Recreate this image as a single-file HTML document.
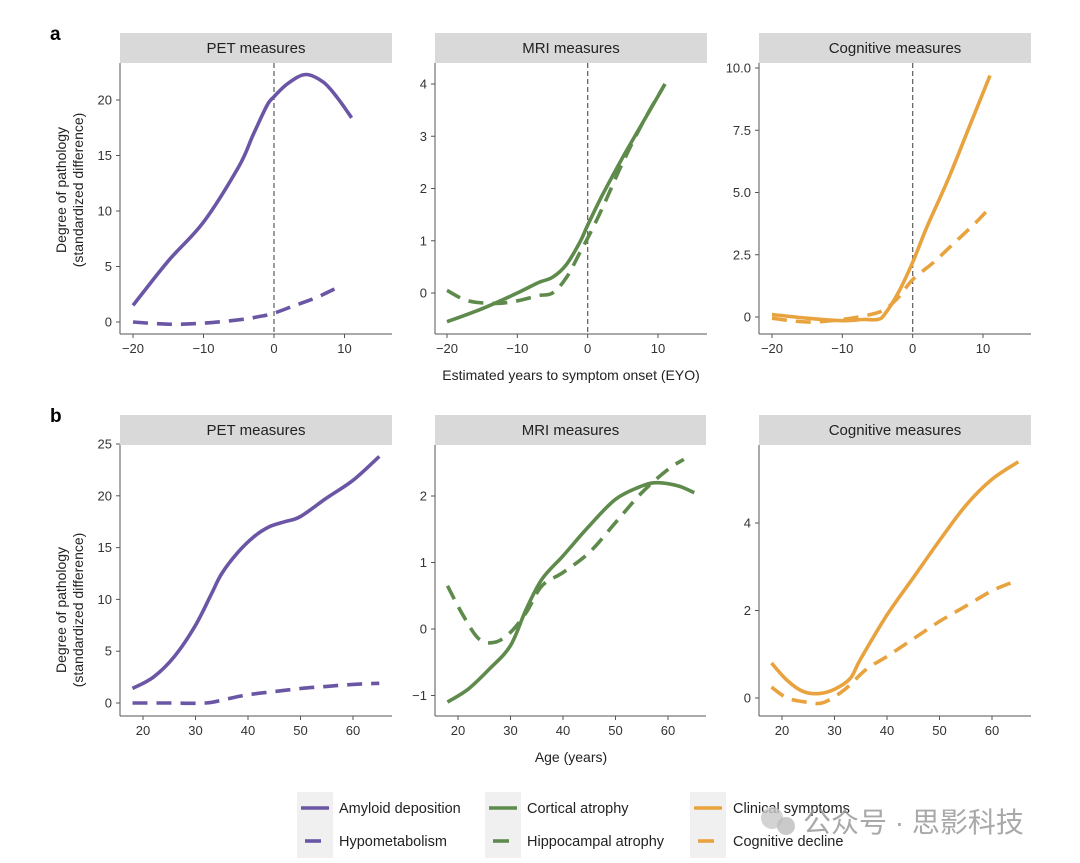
<!DOCTYPE html>
<html><head><meta charset="utf-8"><style>
body{margin:0;background:#fff;}
svg{display:block;font-family:"Liberation Sans",sans-serif;}
</style></head><body>
<svg id="fig" width="1080" height="863" viewBox="0 0 1080 863"></svg>
<script>
// ---- data ----
const eyoTicks=[-20,-10,0,10];
const ageTicks=[20,30,40,50,60];
const a1Ticks=[0,5,10,15,20];
const a2Ticks=[0,1,2,3,4];
const a3Ticks=[0,2.5,5,7.5,10];
const a3TickLabels=["0","2.5","5.0","7.5","10.0"];
const b1Ticks=[0,5,10,15,20,25];
const b2Ticks=[-1,0,1,2];
const b3Ticks=[0,2,4];
const aAmyX=[-20,-15,-10,-5,-3,-1,0,2,4.5,7,9,11];
const aAmyY=[1.5,5.5,9,14,16.8,19.5,20.3,21.5,22.3,21.6,20.2,18.4];
const aHypX=[-20,-15,-10,-5,-2,0,3,6,9];
const aHypY=[0,-0.2,-0.1,0.2,0.5,0.8,1.5,2.2,3.1];
const aCorX=[-20,-15,-10,-7,-5,-3,-1,0,2,5,8,11];
const aCorY=[-0.55,-0.3,0.0,0.2,0.3,0.55,1.0,1.3,1.85,2.6,3.3,4.0];
const aHipX=[-20,-17,-13,-10,-7,-5,-3,-1,0,2,5,8,11];
const aHipY=[0.05,-0.15,-0.2,-0.15,-0.05,0.0,0.3,0.8,1.05,1.6,2.5,3.3,4.0];
const aCliX=[-20,-15,-10,-7,-5,-4,-2,0,2,5,8,11];
const aCliY=[0.1,-0.05,-0.15,-0.1,-0.1,0.1,1.0,2.2,3.6,5.5,7.6,9.7];
const aDecX=[-20,-15,-10,-6,-4,-2,0,3,6,9,11];
const aDecY=[-0.05,-0.2,-0.1,0.1,0.3,0.8,1.5,2.2,3.0,3.8,4.4];
const bAmyX=[18,22,26,30,33,35,38,41,44,47,50,55,60,65];
const bAmyY=[1.4,2.5,4.5,7.5,10.5,12.5,14.5,16,17,17.5,18,19.8,21.5,23.8];
const bHypX=[18,25,32,36,40,45,50,55,60,65];
const bHypY=[0,0,0,0.4,0.8,1.1,1.4,1.6,1.8,1.9];
const bCorX=[18,22,26,30,33,36,40,45,50,55,58,62,65];
const bCorY=[-1.1,-0.9,-0.6,-0.25,0.3,0.75,1.1,1.55,1.95,2.15,2.2,2.15,2.05];
const bHipX=[18,21,24,27,30,33,36,40,45,50,55,60,63];
const bHipY=[0.65,0.2,-0.15,-0.2,-0.05,0.25,0.65,0.85,1.15,1.6,2.05,2.4,2.55];
const bCliX=[18,21,24,27,30,33,35,40,45,50,55,60,65];
const bCliY=[0.8,0.4,0.15,0.1,0.2,0.45,0.9,1.9,2.75,3.6,4.4,5.0,5.4];
const bDecX=[18,21,25,28,32,36,40,45,50,55,60,64];
const bDecY=[0.25,0.0,-0.1,-0.1,0.2,0.65,0.95,1.35,1.75,2.1,2.45,2.65];

const NS="http://www.w3.org/2000/svg";
const svg=document.getElementById('fig');
function el(tag,attrs,parent){const e=document.createElementNS(NS,tag);for(const k in attrs)e.setAttribute(k,attrs[k]);(parent||svg).appendChild(e);return e;}
function lin(d0,p0,d1,p1){return v=>p0+(v-d0)*(p1-p0)/(d1-d0);}
function smooth(pts){let d="M"+pts[0][0].toFixed(1)+","+pts[0][1].toFixed(1);
 for(let i=0;i<pts.length-1;i++){const p0=pts[i-1]||pts[i],p1=pts[i],p2=pts[i+1],p3=pts[i+2]||p2;
  const c1=[p1[0]+(p2[0]-p0[0])/6,p1[1]+(p2[1]-p0[1])/6],c2=[p2[0]-(p3[0]-p1[0])/6,p2[1]-(p3[1]-p1[1])/6];
  d+=" C"+c1[0].toFixed(1)+","+c1[1].toFixed(1)+" "+c2[0].toFixed(1)+","+c2[1].toFixed(1)+" "+p2[0].toFixed(1)+","+p2[1].toFixed(1);}
 return d;}
const PUR="#6b56a6",GRN="#5e8b4c",ORG="#e8a33f";
function panel(o){
 const g=el('g',{});
 
 
 const s=el('rect',{x:o.L,y:o.sy,width:o.R-o.L,height:30,fill:"#d9d9d9"},g);
 
 
 const t=el('text',{x:(o.L+o.R)/2,y:o.sy+20,'text-anchor':'middle','font-size':15,fill:'#222'},g);t.textContent=o.title;
 
 
 const X=o.xs,Y=o.ys;
 el('line',{x1:o.L,y1:o.sy+30,x2:o.L,y2:o.B,stroke:'#555','stroke-width':1},g);
 el('line',{x1:o.L,y1:o.B,x2:o.R,y2:o.B,stroke:'#555','stroke-width':1},g);
 o.xt.forEach(v=>{el('line',{x1:X(v),y1:o.B,x2:X(v),y2:o.B+4,stroke:'#555'},g);
  const tt=el('text',{x:X(v),y:o.B+19,'text-anchor':'middle','font-size':13,fill:'#333'},g);tt.textContent=String(v).replace('-','\u2212');
  
  });
 o.yt.forEach((v,i)=>{el('line',{x1:o.L-4,y1:Y(v),x2:o.L,y2:Y(v),stroke:'#555'},g);
  const tt=el('text',{x:o.L-8,y:Y(v)+4.5,'text-anchor':'end','font-size':13,fill:'#333'},g);tt.textContent=(o.yl?o.yl[i]:String(v)).replace('-','\u2212');
  
  });
 if(o.onset){const l=el('line',{x1:X(0),y1:o.sy+30,x2:X(0),y2:o.B,stroke:'#666','stroke-width':1.3,'stroke-dasharray':'5 3'},g);
  
  }
 o.series.forEach(sr=>{const p=el('path',{d:smooth(sr.x.map((v,i)=>[X(v),Y(sr.y[i])])),fill:'none',stroke:sr.c,'stroke-width':3.6,'stroke-linecap':'butt','stroke-linejoin':'round'},g);
  if(sr.dash)p.setAttribute('stroke-dasharray','15 9');
  
  });
}
// row a
panel({name:'panel-a-pet',title:'PET measures',L:120,R:392,sy:33,B:334,xs:lin(-20,133,10,344.5),ys:lin(0,322,20,100),xt:eyoTicks,yt:a1Ticks,onset:1,
 series:[{x:aAmyX,y:aAmyY,c:PUR,n:'amyloid-line'},{x:aHypX,y:aHypY,c:PUR,dash:1,n:'hypometabolism-line'}]});
panel({name:'panel-a-mri',title:'MRI measures',L:435,R:707,sy:33,B:334,xs:lin(-20,447,10,658),ys:lin(0,293,4,84),xt:eyoTicks,yt:a2Ticks,onset:1,
 series:[{x:aCorX,y:aCorY,c:GRN,n:'cortical-line'},{x:aHipX,y:aHipY,c:GRN,dash:1,n:'hippocampal-line'}]});
panel({name:'panel-a-cognitive',title:'Cognitive measures',L:759,R:1031,sy:33,B:334,xs:lin(-20,772,10,983),ys:lin(0,317,10,68),xt:eyoTicks,yt:a3Ticks,yl:a3TickLabels,onset:1,
 series:[{x:aCliX,y:aCliY,c:ORG,n:'clinical-line'},{x:aDecX,y:aDecY,c:ORG,dash:1,n:'decline-line'}]});
// row b
panel({name:'panel-b-pet',title:'PET measures',L:120,R:392,sy:415,B:716,xs:lin(20,143,60,353),ys:lin(0,703,25,444),xt:ageTicks,yt:b1Ticks,
 series:[{x:bAmyX,y:bAmyY,c:PUR,n:'amyloid-line'},{x:bHypX,y:bHypY,c:PUR,dash:1,n:'hypometabolism-line'}]});
panel({name:'panel-b-mri',title:'MRI measures',L:435,R:706,sy:415,B:716,xs:lin(20,458,60,668),ys:lin(0,629,2,496),xt:ageTicks,yt:b2Ticks,
 series:[{x:bCorX,y:bCorY,c:GRN,n:'cortical-line'},{x:bHipX,y:bHipY,c:GRN,dash:1,n:'hippocampal-line'}]});
panel({name:'panel-b-cognitive',title:'Cognitive measures',L:759,R:1031,sy:415,B:716,xs:lin(20,782,60,992),ys:lin(0,698,4,523),xt:ageTicks,yt:b3Ticks,
 series:[{x:bCliX,y:bCliY,c:ORG,n:'clinical-line'},{x:bDecX,y:bDecY,c:ORG,dash:1,n:'decline-line'}]});
// labels
function txt(x,y,s,attrs,name){const t=el('text',Object.assign({x:x,y:y,fill:'#222'},attrs));t.textContent=s;
 
 return t;}
txt(50,40,'a',{'font-size':19,'font-weight':'bold',fill:'#000'},'panel-label-a');
txt(50,422,'b',{'font-size':19,'font-weight':'bold',fill:'#000'},'panel-label-b');
[[190,'y-axis-title-a'],[610,'y-axis-title-b']].forEach(([cy,n])=>{
 txt(0,0,'Degree of pathology',{'font-size':14,'text-anchor':'middle',transform:'translate(66,'+cy+') rotate(-90)'},n);
 txt(0,0,'(standardized difference)',{'font-size':14,'text-anchor':'middle',transform:'translate(83,'+cy+') rotate(-90)'},n+'-sub');});
txt(571,380,'Estimated years to symptom onset (EYO)',{'font-size':14,'text-anchor':'middle'},'x-axis-title-a');
txt(571,762,'Age (years)',{'font-size':14,'text-anchor':'middle'},'x-axis-title-b');
// legend
const legCols=[{bx:297,tx:339,c:PUR,a:'Amyloid deposition',b:'Hypometabolism'},{bx:485,tx:527,c:GRN,a:'Cortical atrophy',b:'Hippocampal atrophy'},{bx:690,tx:733,c:ORG,a:'Clinical symptoms',b:'Cognitive decline'}];
legCols.forEach(lc=>{
 el('rect',{x:lc.bx,y:792,width:36,height:66,fill:'#f0f0f0'});
 const l1=el('line',{x1:lc.bx+4,y1:808,x2:lc.bx+32,y2:808,stroke:lc.c,'stroke-width':3.6});
 
 
 const l2=el('line',{x1:lc.bx+8,y1:841,x2:lc.bx+24,y2:841,stroke:lc.c,'stroke-width':3.6});
 
 
 txt(lc.tx,813,lc.a,{'font-size':14.5},'legend-entry');
 txt(lc.tx,846,lc.b,{'font-size':14.5},'legend-entry');});
// watermark
const w1=el('circle',{cx:772,cy:818,r:11,fill:'#c8c8c8',opacity:0.8});


el('circle',{cx:786,cy:826,r:9,fill:'#bdbdbd',opacity:0.8});
txt(803,832,'公众号 · 思影科技',{'font-size':28,fill:'#9a9a9a',opacity:0.85,'font-family':'"Liberation Sans","Noto Sans CJK SC",sans-serif'},'watermark-text');
</script>
</body></html>
